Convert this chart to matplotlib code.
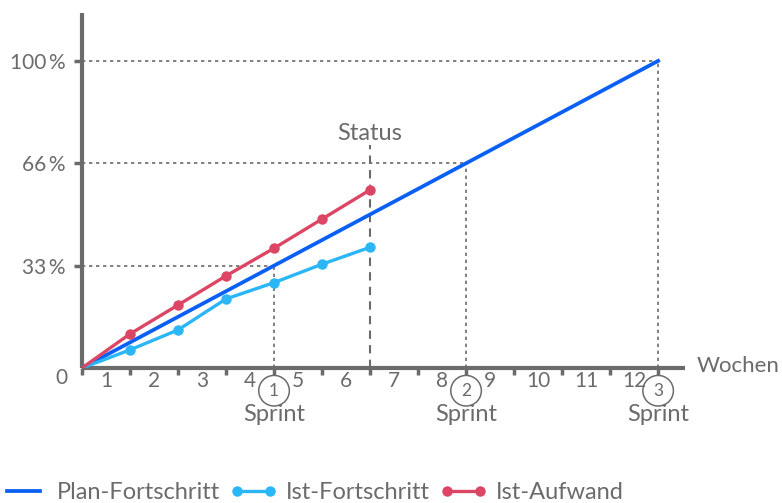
import matplotlib
matplotlib.use('Agg')
import matplotlib.pyplot as plt

plt.rcParams['font.family'] = ['Lato', 'DejaVu Sans']

# weeks and progress in percent
weeks = [0, 1, 2, 3, 4, 5, 6]
plan_weeks = [0, 12]
plan_values = [0, 100]
ist_fortschritt = [0, 5.9, 12.4, 22.5, 27.8, 33.8, 39.3]
ist_aufwand = [0, 11.1, 20.5, 30.0, 39.0, 48.5, 58.0]

y_ticks = [100 / 3, 200 / 3, 100]
y_labels = ['33\u2009%', '66\u2009%', '100\u2009%']
week_labels = ['1', '2', '3', '4', '5', '6', '7', '8', '9', '10', '11', '12']
sprint_weeks = [4, 8, 12]
sprint_levels = [100 / 3, 200 / 3, 100]
status_week = 6

gray = '#6b6b6b'
c_plan = '#0a5ff5'
c_ist = '#2ab6f7'
c_aufwand = '#dc4664'

fig = plt.figure(figsize=(7.82, 5.03), dpi=100)
ax = fig.add_axes([82 / 782, (503 - 368) / 503, (685 - 82) / 782, (368 - 13) / 503])
ax.set_xlim(0, 12.56)
ax.set_ylim(0, 115.6)

for s in ['top', 'right']:
    ax.spines[s].set_visible(False)
for s in ['left', 'bottom']:
    ax.spines[s].set_color(gray)
    ax.spines[s].set_linewidth(3)
    ax.spines[s].set_capstyle('butt')

# helper lines for sprints
for i, (w, lvl) in enumerate(zip(sprint_weeks, sprint_levels), start=1):
    ax.plot([0, w], [lvl, lvl], color=gray, lw=1.2, ls=(0, (2, 2.2)), zorder=1)
    ax.plot([w, w], [0, lvl], color=gray, lw=1.2, ls=(0, (2, 2.2)), zorder=1)
    ax.text(w, -7.4, str(i), ha='center', va='center', color=gray, fontsize=12.5,
            bbox=dict(boxstyle='circle,pad=0.42', fc='none', ec=gray, lw=1.1))
    ax.text(w, -15.2, 'Sprint', ha='center', va='center', color=gray, fontsize=17)

ax.plot([status_week, status_week], [0, 72.5], color=gray, lw=1.5, ls=(0, (4, 3)), zorder=1)
ax.text(status_week, 74.2, 'Status', ha='center', va='baseline', color=gray, fontsize=17)

ax.plot(plan_weeks, plan_values, color=c_plan, lw=2.7, label='Plan-Fortschritt', zorder=3)
ax.plot(weeks, ist_fortschritt, color=c_ist, lw=2.4, marker='o', ms=6.5, markevery=list(range(1, 7)),
        label='Ist-Fortschritt', zorder=4)
ax.plot(weeks, ist_aufwand, color=c_aufwand, lw=2.4, marker='o', ms=6.5, markevery=list(range(1, 7)),
        label='Ist-Aufwand', zorder=4)

ax.set_yticks(y_ticks)
ax.set_yticklabels(y_labels)
ax.tick_params(axis='y', length=6, width=2.5, color=gray, labelcolor=gray, labelsize=15, pad=6)

ax.set_xticks(range(0, 13))
ax.set_xticklabels([])
ax.set_xticks([k + 0.5 for k in range(12)], minor=True)
ax.set_xticklabels(week_labels, minor=True)
ax.tick_params(axis='x', which='major', length=5, width=2.5, color=gray)
ax.tick_params(axis='x', which='minor', length=0, labelcolor=gray, labelsize=15, pad=2)

ax.text(-0.3, -3.3, '0', ha='right', va='center', color=gray, fontsize=15)
ax.text(12.8, 0.6, 'Wochen', ha='left', va='center', color=gray, fontsize=16)

leg = fig.legend(loc='lower left', bbox_to_anchor=(-0.027, -0.042), ncol=3, frameon=False,
                 numpoints=2, handlelength=2.0, handletextpad=0.4, columnspacing=0.4,
                 fontsize=17)
for t in leg.get_texts():
    t.set_color(gray)

fig.savefig('out.png', dpi=100)
